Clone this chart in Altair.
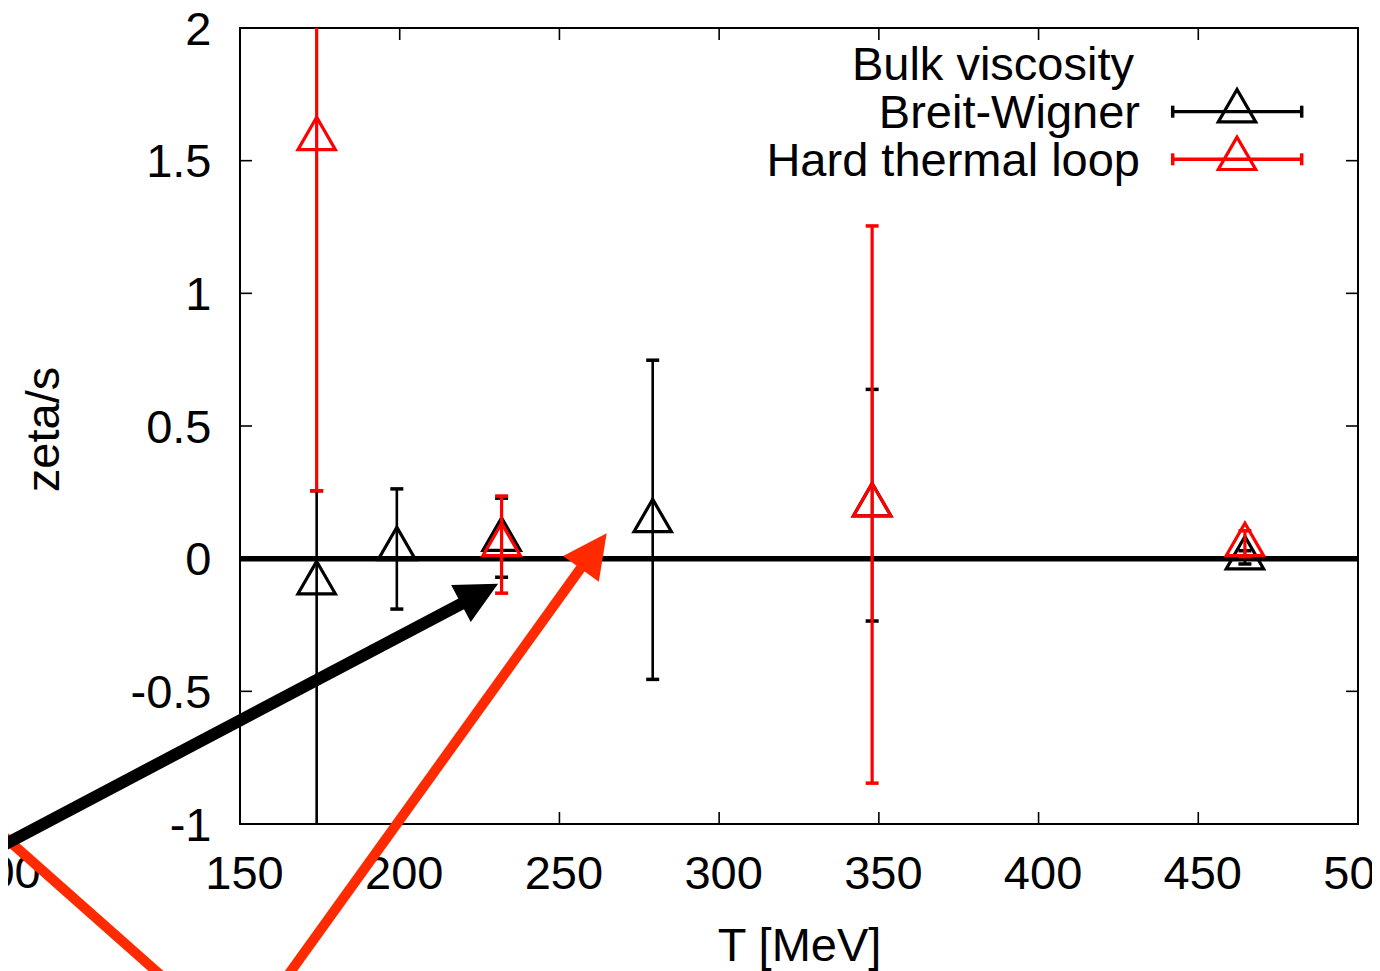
import altair as alt
import pandas as pd

# ---------------- data ----------------
# Breit-Wigner (black)
T_BW = [174.0, 199.1, 231.9, 279.2, 347.9, 464.6]
Z_BW = [-0.094, 0.035, 0.07, 0.14, 0.20, 0.0]
LO_BW = [-1.3, -0.19, -0.07, -0.455, -0.235, -0.02]
HI_BW = [0.256, 0.263, 0.228, 0.748, 0.638, 0.03]

# Hard thermal loop (red)
T_HTL = [174.0, 231.9, 347.9, 464.6]
Z_HTL = [1.58, 0.05, 0.20, 0.05]
LO_HTL = [0.256, -0.13, -0.846, 0.008]
HI_HTL = [2.9, 0.236, 1.254, 0.105]

X_TICKS = [150, 200, 250, 300, 350, 400, 450, 500]
Y_TICKS = [-1, -0.5, 0, 0.5, 1, 1.5, 2]

# annotation arrows (data units): start, shaft end, tip
RED_LINE = {"x1": [68.6], "y1": [-0.967], "x2": [131.2], "y2": [-1.634]}
RED_ARROW = {"x1": [162.8], "y1": [-1.607], "x2": [257.5], "y2": [-0.022],
             "tx": [264.8], "ty": [0.096]}
BLACK_ARROW = {"x1": [68.6], "y1": [-1.126], "x2": [220.3], "y2": [-0.1636],
               "tx": [230.8], "ty": [-0.095]}
STRAY = {"x": [87.6], "y": [-1.2396], "t": ["00"]}

LEGEND_TITLE = "Bulk viscosity"
SERIES = ["Breit-Wigner", "Hard thermal loop"]

# ---------------- chart ----------------
W, H = 1118, 796
FONT = "Liberation Sans"
FS = 47
RED = "#ff0000"
ARROW_RED = "#ff2a00"

xs = alt.Scale(domain=[150, 500], nice=False, zero=False)
ys = alt.Scale(domain=[-1, 2], nice=False, zero=False)

bw = pd.DataFrame({"T": T_BW, "z": Z_BW, "lo": LO_BW, "hi": HI_BW})
htl = pd.DataFrame({"T": T_HTL, "z": Z_HTL, "lo": LO_HTL, "hi": HI_HTL})
one = pd.DataFrame({"k": [0]})

x_axis = alt.Axis(values=X_TICKS, format="d", labelFontSize=FS, labelFont=FONT,
                  labelColor="black", labelPadding=27, ticks=False, tickSize=0,
                  domain=False, grid=False, labelFlush=False, labelOverlap=False,
                  labelOffset=4,
                  title="T [MeV]", titleFontSize=FS, titleFont=FONT,
                  titleFontWeight="normal", titleColor="black", titleY=136,
                  titleX=W / 2, titleBaseline="alphabetic", titleAlign="center")
y_axis = alt.Axis(values=Y_TICKS, labelFontSize=FS, labelFont=FONT,
                  labelColor="black", labelPadding=29, ticks=False, tickSize=0,
                  domain=False, grid=False, labelFlush=False, labelOverlap=False,
                  labelOffset=2,
                  labelExpr="datum.value < 0 ? '-' + format(-datum.value, '~g') : format(datum.value, '~g')",
                  title="zeta/s", titleFontSize=FS, titleFont=FONT,
                  titleFontWeight="normal", titleColor="black", titleAngle=-90,
                  titleX=-181.5, titleY=401, titleAlign="center",
                  titleBaseline="alphabetic")


def X(field):
    return alt.X(field, type="quantitative", scale=xs, axis=x_axis)


def Y(field):
    return alt.Y(field, type="quantitative", scale=ys, axis=y_axis)


layers = []

# zero line
layers.append(alt.Chart(pd.DataFrame({"z": [0]})).mark_rule(
    color="black", strokeWidth=5.5).encode(
    y=Y("z"), x=alt.value(0), x2=alt.value(W)))

# inward ticks
xt = pd.DataFrame({"v": X_TICKS})
yt = pd.DataFrame({"v": Y_TICKS})
layers.append(alt.Chart(xt).mark_rule(color="black", strokeWidth=1.6).encode(
    x=X("v"), y=alt.value(H), y2=alt.value(H - 12)))
layers.append(alt.Chart(xt).mark_rule(color="black", strokeWidth=1.6).encode(
    x=X("v"), y=alt.value(0), y2=alt.value(12)))
layers.append(alt.Chart(yt).mark_rule(color="black", strokeWidth=1.6).encode(
    y=Y("v"), x=alt.value(0), x2=alt.value(12)))
layers.append(alt.Chart(yt).mark_rule(color="black", strokeWidth=1.6).encode(
    y=Y("v"), x=alt.value(W), x2=alt.value(W - 12)))


def series(df, color, lw):
    out = []
    out.append(alt.Chart(df).mark_rule(color=color, strokeWidth=lw, clip=True).encode(
        x=X("T"), y=Y("lo"), y2="hi"))
    for f in ["lo", "hi"]:
        out.append(alt.Chart(df).mark_tick(color=color, orient="horizontal", size=13,
                                           thickness=3.5, opacity=1, clip=True).encode(
            x=X("T"), y=Y(f)))
    out.append(alt.Chart(df).mark_point(shape="triangle-up", size=1400, filled=False,
                                        color=color, strokeWidth=3.2, opacity=1,
                                        yOffset=-6, clip=True).encode(
        x=X("T"), y=Y("z")))
    return out


layers += series(bw, "black", 2.6)
layers += series(htl, RED, 3.2)

# legend
layers.append(alt.Chart(one).mark_text(text=LEGEND_TITLE, font=FONT, fontSize=FS,
                                       align="right", baseline="alphabetic",
                                       color="black").encode(
    x=alt.value(894), y=alt.value(52)))
for i, (name, color, lw) in enumerate([(SERIES[0], "black", 3.2), (SERIES[1], RED, 3.4)]):
    ly = 83.7 + 47.6 * i
    layers.append(alt.Chart(one).mark_text(text=name, font=FONT, fontSize=FS,
                                           align="right", baseline="alphabetic",
                                           color="black").encode(
        x=alt.value(900), y=alt.value(ly + 16.6)))
    layers.append(alt.Chart(one).mark_rule(color=color, strokeWidth=lw).encode(
        x=alt.value(932.7), x2=alt.value(1061.7), y=alt.value(ly)))
    for cx in [932.7, 1061.7]:
        layers.append(alt.Chart(one).mark_rule(color=color, strokeWidth=3.5).encode(
            x=alt.value(cx), y=alt.value(ly - 6), y2=alt.value(ly + 6)))
    layers.append(alt.Chart(one).mark_point(shape="triangle-up", size=1400, filled=False,
                                            color=color, strokeWidth=3.2, opacity=1).encode(
        x=alt.value(997), y=alt.value(ly - 6)))

# stray tick label of a neighbouring panel
layers.append(alt.Chart(pd.DataFrame(STRAY)).mark_text(
    font=FONT, fontSize=FS, align="right", baseline="alphabetic", color="black",
    clip=False).encode(x=X("x"), y=Y("y"), text="t:N"))

# arrows
layers.append(alt.Chart(pd.DataFrame(RED_LINE)).mark_rule(
    color=ARROW_RED, strokeWidth=10, clip=False).encode(
    x=X("x1"), y=Y("y1"), x2="x2", y2="y2"))
ra = pd.DataFrame(RED_ARROW)
layers.append(alt.Chart(ra).mark_rule(color=ARROW_RED, strokeWidth=10, clip=False).encode(
    x=X("x1"), y=Y("y1"), x2="x2", y2="y2"))
layers.append(alt.Chart(ra).mark_point(shape="M0,0L-1,2L1,2Z", size=1936, filled=True,
                                       color=ARROW_RED, opacity=1, angle=35.8,
                                       clip=False).encode(x=X("tx"), y=Y("ty")))
ba = pd.DataFrame(BLACK_ARROW)
layers.append(alt.Chart(ba).mark_rule(color="black", strokeWidth=12, clip=False).encode(
    x=X("x1"), y=Y("y1"), x2="x2", y2="y2"))
layers.append(alt.Chart(ba).mark_point(shape="M0,0L-1,2L1,2Z", size=1764, filled=True,
                                       color="black", opacity=1, angle=62.2,
                                       clip=False).encode(x=X("tx"), y=Y("ty")))

chart = alt.layer(*layers).properties(
    width=W, height=H,
    padding={"left": 232, "top": 20, "right": 14, "bottom": 147},
    autosize=alt.AutoSizeParams(type="none"),
).configure_view(stroke="black", strokeWidth=2)

chart.save("out.html", embed_options={"renderer": "svg", "actions": False})
